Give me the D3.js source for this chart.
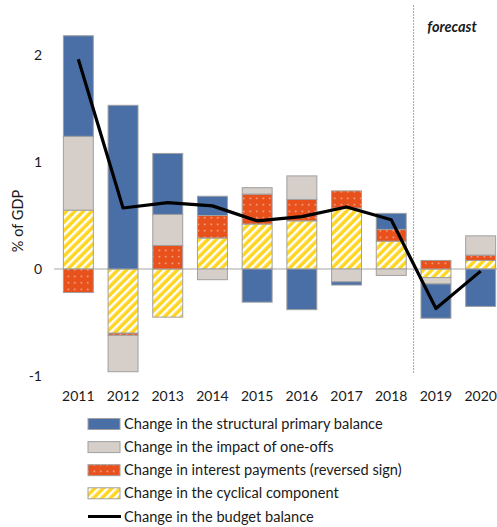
<!DOCTYPE html>
<html>
<head>
<meta charset="utf-8">
<script src="https://cdn.jsdelivr.net/npm/d3@7"></script>
<style>
  html, body { margin: 0; padding: 0; background: #fff; }
  svg { display: block; }
  text { font-family: Lato, "Open Sans", sans-serif; fill: #1a1a1a; }
</style>
</head>
<body>
<svg id="chart" width="497" height="527"></svg>
<script>
// ---- data ----
const years = ["2011","2012","2013","2014","2015","2016","2017","2018","2019","2020"];
const structural = [0.94, 1.53, 0.57, 0.18, -0.31, -0.38, -0.03, 0.15, -0.32, -0.35];
const oneOffs    = [0.69, -0.34, 0.29, -0.10, 0.06, 0.22, -0.12, -0.06, -0.06, 0.18];
const interest   = [-0.22, -0.02, 0.22, 0.21, 0.28, 0.20, 0.16, 0.11, 0.08, 0.05];
const cyclical   = [0.55, -0.60, -0.45, 0.29, 0.42, 0.45, 0.57, 0.26, -0.08, 0.08];
const budget     = [1.96, 0.57, 0.62, 0.59, 0.45, 0.49, 0.58, 0.46, -0.37, -0.02];
const yTicks = [-1, 0, 1, 2];
const forecastFrom = "2019";
const legendLabels = [
  "Change in the structural primary balance",
  "Change in the impact of one-offs",
  "Change in interest payments (reversed sign)",
  "Change in the cyclical component",
  "Change in the budget balance"
];

const rows = years.map((yr, i) => ({
  year: yr,
  structural: structural[i],
  oneOffs: oneOffs[i],
  interest: interest[i],
  cyclical: cyclical[i]
}));

const svg = d3.select("#chart");
const defs = svg.append("defs");

// patterns
const stripes = defs.append("pattern")
  .attr("id", "stripes").attr("patternUnits", "userSpaceOnUse")
  .attr("width", 6).attr("height", 6)
  .attr("patternTransform", "rotate(45)");
stripes.append("rect").attr("width", 6).attr("height", 6).attr("fill", "#FFD51F");
stripes.append("rect").attr("x", 0).attr("width", 2.5).attr("height", 6).attr("fill", "#ffffff");

const dots = defs.append("pattern")
  .attr("id", "dots").attr("patternUnits", "userSpaceOnUse")
  .attr("width", 6.5).attr("height", 6.5);
dots.append("rect").attr("width", 6.5).attr("height", 6.5).attr("fill", "#E8501C");
dots.append("rect").attr("x", 2.6).attr("y", 2.6).attr("width", 1.4).attr("height", 1.4).attr("fill", "#F6C9B6");

const fills = {
  structural: "#4A6FA7",
  oneOffs: "#D5CEC9",
  interest: "url(#dots)",
  cyclical: "url(#stripes)"
};

// scales
const x = d3.scaleBand().domain(years).range([56, 503]).paddingInner(0.33).paddingOuter(0.165);
const y = d3.scaleLinear().domain([-1, 2]).range([376, 55]);

// stack: order bottom-up for positives / nearest-zero for negatives
const keys = ["cyclical", "interest", "oneOffs", "structural"];
const stack = d3.stack().keys(keys).offset(d3.stackOffsetDiverging);
const series = stack(rows);

// zero line
svg.append("line")
  .attr("x1", 54).attr("x2", 497)
  .attr("y1", y(0)).attr("y2", y(0))
  .attr("stroke", "#A6A6A6").attr("stroke-width", 1);

// bars
const g = svg.append("g");
series.forEach(s => {
  g.selectAll(null).data(s).join("rect")
    .attr("x", d => x(d.data.year))
    .attr("width", x.bandwidth())
    .attr("y", d => y(Math.max(d[0], d[1])))
    .attr("height", d => Math.abs(y(d[0]) - y(d[1])))
    .attr("fill", fills[s.key])
    .attr("stroke", "#A0A0A0")
    .attr("stroke-width", 1);
});

// forecast divider
const fx = x(forecastFrom) - (x.step() - x.bandwidth()) / 2;
svg.append("line")
  .attr("x1", fx).attr("x2", fx)
  .attr("y1", 5).attr("y2", 374)
  .attr("stroke", "#A6A6A6").attr("stroke-width", 1)
  .attr("stroke-dasharray", "2,1");
svg.append("text")
  .attr("x", 452).attr("y", 32)
  .attr("text-anchor", "middle")
  .attr("font-size", 14.5).attr("font-weight", "bold").attr("font-style", "italic")
  .text("forecast");

// budget balance line
const line = d3.line()
  .x((d, i) => x(years[i]) + x.bandwidth() / 2)
  .y(d => y(d));
svg.append("path")
  .datum(budget)
  .attr("d", line)
  .attr("fill", "none")
  .attr("stroke", "#000")
  .attr("stroke-width", 3.2)
  .attr("stroke-linejoin", "round");

// y axis labels
svg.selectAll(".ytick").data(yTicks).join("text")
  .attr("class", "ytick")
  .attr("x", 42).attr("y", d => y(d))
  .attr("dy", "0.35em")
  .attr("text-anchor", "end")
  .attr("font-size", 14)
  .text(d => d);

// y axis title
svg.append("text")
  .attr("transform", "translate(18," + 221 + ") rotate(-90)")
  .attr("text-anchor", "middle")
  .attr("dy", "0.35em")
  .attr("font-size", 14.5)
  .text("% of GDP");

// x labels
svg.selectAll(".xtick").data(years).join("text")
  .attr("class", "xtick")
  .attr("x", d => x(d) + x.bandwidth() / 2)
  .attr("y", 396).attr("dy", "0.35em")
  .attr("text-anchor", "middle")
  .attr("font-size", 14)
  .text(d => d);

// legend
const legFills = [fills.structural, fills.oneOffs, fills.interest, fills.cyclical];
const leg = svg.append("g");
legendLabels.forEach((lab, i) => {
  const cy = 424 + i * 23.1;
  if (i < 4) {
    leg.append("rect")
      .attr("x", 88).attr("y", cy - 5.5)
      .attr("width", 32).attr("height", 11)
      .attr("fill", legFills[i])
      .attr("stroke", "#A0A0A0").attr("stroke-width", 1);
  } else {
    leg.append("line")
      .attr("x1", 88).attr("x2", 121)
      .attr("y1", cy).attr("y2", cy)
      .attr("stroke", "#000").attr("stroke-width", 3);
  }
  leg.append("text")
    .attr("x", 124).attr("y", cy).attr("dy", "0.35em")
    .attr("font-size", 14.6)
    .text(lab);
});
</script>
</body>
</html>
